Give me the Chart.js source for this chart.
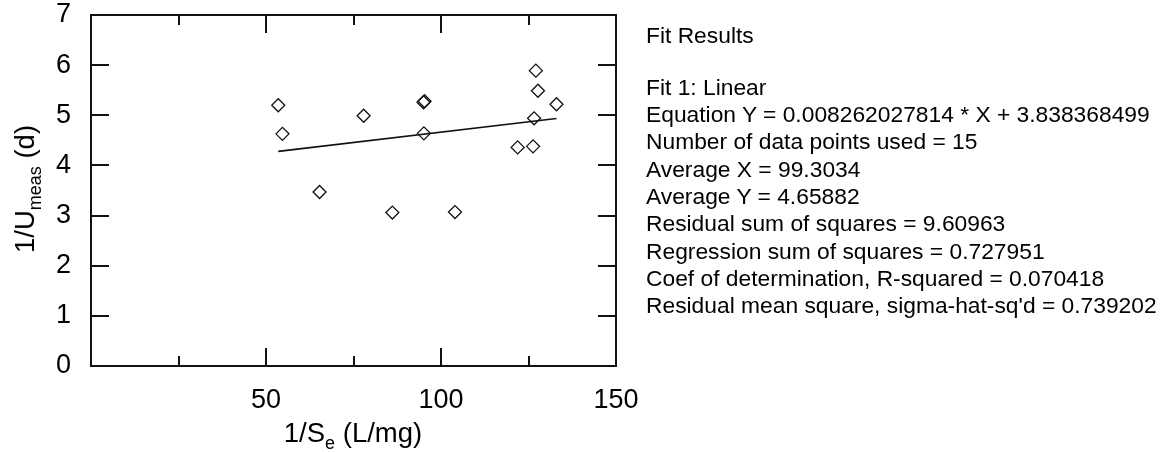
<!DOCTYPE html>
<html>
<head>
<meta charset="utf-8">
<script src="https://cdn.jsdelivr.net/npm/chart.js@4"></script>
<style>
  body { margin: 0; background: #fff; }
  #wrap { position: relative; width: 1170px; height: 452px; font-family: "Liberation Sans", Arial, sans-serif; color: #000; }
  #chart { position: absolute; left: 0; top: 0; }
  .axis-title { position: absolute; font-size: 27.5px; line-height: 30px; white-space: nowrap; }
  .axis-title sub { font-size: 18px; line-height: 0; vertical-align: -7px; }
  #x-title { left: 353px; top: 417.5px; transform: translateX(-50%); }
  #y-title { left: 24.8px; top: 189px; transform: translate(-50%, -50%) rotate(-90deg); }
  .fit { position: absolute; left: 646px; font-size: 22.8px; line-height: 27.3px; white-space: nowrap; }
  #fit-head { top: 21.8px; }
  #fit-lines { top: 73.8px; }
</style>
</head>
<body>
<div id="wrap">
  <canvas id="chart" width="1170" height="452"></canvas>
  <div class="axis-title" id="y-title">1/U<sub>meas</sub> (d)</div>
  <div class="axis-title" id="x-title">1/S<sub>e</sub> (L/mg)</div>
  <div class="fit" id="fit-head"></div>
  <div class="fit" id="fit-lines"></div>
</div>
<script>
// measured points: 1/Se (L/mg) vs 1/U (d)
const xValues = [53.5, 54.7, 65.3, 77.9, 86.1, 95.0, 95.3, 95.1, 104.0, 121.9, 126.3, 126.6, 127.1, 127.7, 133.0];
const yValues = [5.20, 4.63, 3.47, 4.99, 3.06, 5.26, 5.28, 4.64, 3.07, 4.36, 4.38, 4.94, 5.89, 5.49, 5.22];

// linear fit
const fitSlope = 0.008262027814;
const fitIntercept = 3.838368499;

const xTicks = [0, 25, 50, 75, 100, 125, 150];
const yTicks = [0, 1, 2, 3, 4, 5, 6, 7];

const fitHeading = "Fit Results";
const fitLines = [
  "Fit 1: Linear",
  "Equation Y = 0.008262027814 * X + 3.838368499",
  "Number of data points used = 15",
  "Average X = 99.3034",
  "Average Y = 4.65882",
  "Residual sum of squares = 9.60963",
  "Regression sum of squares = 0.727951",
  "Coef of determination, R-squared = 0.070418",
  "Residual mean square, sigma-hat-sq'd = 0.739202"
];

document.getElementById("fit-head").textContent = fitHeading;
const linesBox = document.getElementById("fit-lines");
fitLines.forEach((line) => {
  const div = document.createElement("div");
  div.textContent = line;
  linesBox.appendChild(div);
});

const points = xValues.map((x, i) => ({ x: x, y: yValues[i] }));
const xMin = Math.min(...xValues);
const xMax = Math.max(...xValues);
const fitPoints = [xMin, xMax].map((x) => ({ x: x, y: fitSlope * x + fitIntercept }));

const tickFont = { family: "'Liberation Sans', Arial, sans-serif", size: 27 };

// box frame with inward tick marks on all four sides
const frameTicks = {
  id: "frameTicks",
  afterDatasetsDraw(chart) {
    const { ctx, chartArea: a, scales } = chart;
    const x = scales.x;
    const y = scales.y;
    ctx.save();
    ctx.strokeStyle = "#111";
    ctx.lineWidth = 2;
    ctx.strokeRect(a.left, a.top, a.right - a.left, a.bottom - a.top);
    ctx.beginPath();
    x.ticks.forEach((t) => {
      if (t.value <= x.min || t.value >= x.max) return;
      const px = Math.round(x.getPixelForValue(t.value));
      const len = t.value % 50 === 0 ? 18 : 10;
      ctx.moveTo(px, a.bottom);
      ctx.lineTo(px, a.bottom - len);
      ctx.moveTo(px, a.top);
      ctx.lineTo(px, a.top + len);
    });
    y.ticks.forEach((t) => {
      if (t.value <= y.min || t.value >= y.max) return;
      const py = Math.round(y.getPixelForValue(t.value));
      ctx.moveTo(a.left, py);
      ctx.lineTo(a.left + 18, py);
      ctx.moveTo(a.right, py);
      ctx.lineTo(a.right - 18, py);
    });
    ctx.stroke();
    ctx.restore();
  }
};

new Chart(document.getElementById("chart"), {
  type: "scatter",
  data: {
    datasets: [
      {
        data: points,
        pointStyle: "rectRot",
        pointRadius: 6.5,
        pointBorderWidth: 1.3,
        pointBorderColor: "#111",
        pointBackgroundColor: "rgba(0,0,0,0)"
      },
      {
        type: "line",
        data: fitPoints,
        borderColor: "#111",
        borderWidth: 1.6,
        pointRadius: 0,
        fill: false
      }
    ]
  },
  options: {
    responsive: false,
    animation: false,
    layout: { padding: { top: 15, right: 554, left: 0, bottom: 0 } },
    plugins: { legend: { display: false }, tooltip: { enabled: false } },
    scales: {
      x: {
        type: "linear",
        min: 0,
        max: 150,
        afterBuildTicks: (s) => { s.ticks = xTicks.map((v) => ({ value: v })); },
        afterFit: (s) => { s.height = 86; s.paddingLeft = 0; s.paddingRight = 0; },
        grid: { display: false, drawTicks: false },
        border: { display: false },
        ticks: {
          autoSkip: false,
          maxRotation: 0,
          padding: 18,
          color: "#000",
          font: tickFont,
          callback: (v) => (v % 50 === 0 && v !== 0 ? v : "")
        }
      },
      y: {
        type: "linear",
        min: 0,
        max: 7,
        afterBuildTicks: (s) => { s.ticks = yTicks.map((v) => ({ value: v })); },
        afterFit: (s) => { s.width = 91; s.paddingTop = 0; s.paddingBottom = 0; },
        grid: { display: false, drawTicks: false },
        border: { display: false },
        ticks: { padding: 20, color: "#000", font: tickFont }
      }
    }
  },
  plugins: [frameTicks]
});
</script>
</body>
</html>
